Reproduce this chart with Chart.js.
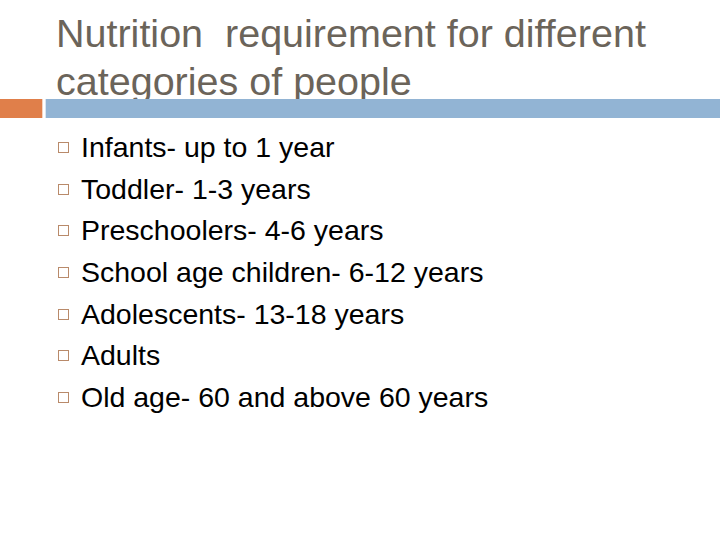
<!DOCTYPE html>
<html><head><meta charset="utf-8">
<script src="https://cdn.jsdelivr.net/npm/chart.js@4"></script>
<style>
html,body{margin:0;padding:0;width:720px;height:540px;background:#fff;overflow:hidden;font-family:"Liberation Sans",Arial,sans-serif}
#strip{position:absolute;left:0;top:99px;width:720px;height:19px}
#title{position:absolute;left:56px;top:9px;font-size:39.5px;line-height:48px;color:#6b645a;white-space:pre}
#list{position:absolute;left:58px;top:127px;margin:0;padding:0;list-style:none}
#list li{height:41.7px;font-size:28.5px;line-height:41px;color:#000;position:relative;padding-left:23px;white-space:pre}
#list li::before{content:"";position:absolute;left:0;top:15px;width:9px;height:9px;border:1.5px solid #b98a6a}
</style></head><body>
<div id="title"></div>
<div id="strip"><canvas id="c"></canvas></div>
<ul id="list"></ul>
<script>
const titleLines = ["Nutrition  requirement for different", "categories of people"];
const items = ["Infants- up to 1 year","Toddler- 1-3 years","Preschoolers- 4-6 years","School age children- 6-12 years","Adolescents- 13-18 years","Adults","Old age- 60 and above 60 years"];
const stripSegments = [[0,42],[46,720]];
const stripColors = ["#e07f4a","#92b4d4"];

document.getElementById('title').textContent = titleLines.join("\n");
const ul = document.getElementById('list');
items.forEach(t=>{const li=document.createElement('li');li.textContent=t;ul.appendChild(li);});

new Chart(document.getElementById('c'),{
  type:'bar',
  data:{labels:['strip'],datasets:stripSegments.map((s,i)=>({data:[s],backgroundColor:stripColors[i],barPercentage:1,categoryPercentage:1,grouped:false}))},
  options:{indexAxis:'y',responsive:true,maintainAspectRatio:false,animation:false,
    layout:{padding:0},
    plugins:{legend:{display:false},tooltip:{enabled:false}},
    scales:{x:{display:false,min:0,max:720},y:{display:false}}}
});
</script></body></html>
